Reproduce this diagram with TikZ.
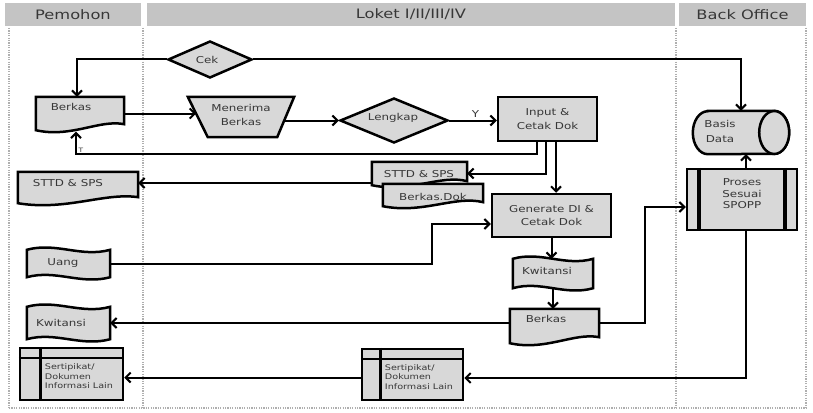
\documentclass[tikz,border=0pt]{standalone}
\usepackage{fontspec}
\setmainfont{DejaVu Sans}[FakeStretch=1.25]
\usetikzlibrary{shapes.geometric,arrows.meta,calc}
\definecolor{shpfill}{RGB}{216,216,216}
\definecolor{hdrfill}{RGB}{196,196,196}
\definecolor{txtc}{RGB}{55,55,55}
\definecolor{lanec}{RGB}{175,175,175}
\tikzset{
 shp/.style={draw=black, fill=shpfill, line width=2.5pt, line join=miter},
 box/.style={shp, rectangle, inner sep=0pt},
 ghost/.style={rectangle, inner sep=0pt, draw=none},
 lbl/.style={text=txtc, font=\fontsize{9.5}{13.5}\selectfont, inner sep=0pt, align=center},
 slbl/.style={text=txtc, font=\fontsize{7.7}{9.5}\selectfont, inner sep=0pt, align=left},
 hdr/.style={text=txtc, font=\fontsize{13}{15}\selectfont, inner sep=0pt, fill=hdrfill},
 conn/.style={draw=black, line width=2pt, -{Straight Barb[length=5pt,width=10pt]}},
 lane/.style={draw=lanec, line width=1.6pt, dash pattern=on 1.2pt off 1.2pt},
}
\newcommand\docshape[2]{%
 \draw[shp] (#1.south west) -- (#1.north west) -- (#1.north east) -- ($(#1.south east)+(0pt,#2)$)
   .. controls ($(#1.south west)!0.72!(#1.south east)+(0pt,11pt)$) and ($(#1.south west)!0.4!(#1.south east)+(0pt,-8pt)$) .. (#1.south west) -- cycle;}
\newcommand\tapeshape[2]{%
 \draw[shp] (#1.north west) .. controls ($(#1.north west)!0.35!(#1.north east)+(0pt,#2)$) and ($(#1.north west)!0.65!(#1.north east)+(0pt,-#2)$) .. (#1.north east)
   -- (#1.south east) .. controls ($(#1.south west)!0.65!(#1.south east)+(0pt,-#2)$) and ($(#1.south west)!0.35!(#1.south east)+(0pt,#2)$) .. (#1.south west) -- cycle;}
\begin{document}
\begin{tikzpicture}[x=1pt,y=-1pt]
\useasboundingbox (0,0) rectangle (813,412);
\fill[white] (0,0) rectangle (813,412);
% headers
\node[hdr, minimum width=136pt, minimum height=23pt] (hP) at (73,14.5) {Pemohon};
\node[hdr, minimum width=528pt, minimum height=23pt] (hL) at (411,14.5) {Loket I/II/III/IV};
\node[hdr, minimum width=127pt, minimum height=23pt] (hB) at (742.5,14.5) {Back Office};
% lanes
\draw[lane] (9,28) -- (9,408);
\draw[lane] (143,28) -- (143,408);
\draw[lane] (676,28) -- (676,408);
\draw[lane] (806,28) -- (806,408);
\draw[lane] (9,408) -- (806,408);
% shapes
\node[shp, diamond, minimum width=84pt, minimum height=37pt, inner sep=0pt] (cek) at (210,59.5) {};
\node[lbl] (cekt) at (207,59.5) {Cek};

\node[ghost, minimum width=88pt, minimum height=33pt] (berkasA) at (80,113.5) {};
\docshape{berkasA}{6pt}
\node[lbl] (berkasAt) at (71,107) {Berkas};

\node[ghost, minimum width=106pt, minimum height=40pt] (menerima) at (241,117) {};
\draw[shp] (menerima.north west) -- (menerima.north east) -- ([xshift=-17pt]menerima.south east) -- ([xshift=20pt]menerima.south west) -- cycle;
\node[lbl] (menerimat) at (241,115) {Menerima\\Berkas};

\node[shp, diamond, minimum width=108pt, minimum height=45pt, inner sep=0pt] (lengkap) at (394,120.5) {};
\node[lbl] (lengkapt) at (393,118) {Lengkap};

\node[box, lbl, minimum width=99pt, minimum height=44pt] (input) at (547.5,119) {Input \&\\Cetak Dok};

\node[ghost, minimum width=95pt, minimum height=23pt] (sttdB) at (419.5,173.5) {};
\docshape{sttdB}{4pt}
\node[lbl] (sttdBt) at (419,174) {STTD \& SPS};
\node[ghost, minimum width=100pt, minimum height=22pt] (dokB) at (433,195) {};
\docshape{dokB}{4pt}
\node[lbl] (dokBt) at (433,197) {Berkas.Dok};

\node[ghost, minimum width=120pt, minimum height=31pt] (sttdA) at (78,187.5) {};
\docshape{sttdA}{6pt}
\node[lbl] (sttdAt) at (68,183) {STTD \& SPS};

\node[box, lbl, minimum width=119pt, minimum height=43pt] (generate) at (551.5,215.5) {Generate DI \&\\Cetak Dok};

\node[ghost, minimum width=83pt, minimum height=27pt] (uang) at (68.5,263.5) {};
\tapeshape{uang}{8pt}
\node[lbl] (uangt) at (63,263) {Uang};

\node[ghost, minimum width=80pt, minimum height=29pt] (kwitB) at (553,273.5) {};
\tapeshape{kwitB}{8pt}
\node[lbl] (kwitBt) at (547,271) {Kwitansi};

\node[ghost, minimum width=89pt, minimum height=34pt] (berkasB) at (554.5,326) {};
\docshape{berkasB}{6pt}
\node[lbl] (berkasBt) at (546,319) {Berkas};

\node[ghost, minimum width=83pt, minimum height=32pt] (kwitA) at (68.5,323) {};
\tapeshape{kwitA}{8pt}
\node[lbl] (kwitAt) at (61,323) {Kwitansi};

\node[box, minimum width=110pt, minimum height=61pt] (proses) at (742,199.5) {};
\draw[line width=3.6pt] ([xshift=13pt]proses.north west) -- ([xshift=13pt]proses.south west);
\draw[line width=3.6pt] ([xshift=-13pt]proses.north east) -- ([xshift=-13pt]proses.south east);
\node[lbl, font=\fontsize{9.5}{11.5}\selectfont] (prosest) at (742,194) {Proses\\Sesuai\\SPOPP};

\node[ghost, minimum width=96pt, minimum height=43pt] (basis) at (741,132.5) {};
\draw[shp] ($(basis.north west)+(15pt,0pt)$) -- ($(basis.north east)+(-15pt,0pt)$) arc[start angle=90, end angle=-90, x radius=15pt, y radius=21.5pt]
  -- ($(basis.south west)+(15pt,0pt)$) arc[start angle=270, end angle=90, x radius=15pt, y radius=21.5pt] -- cycle;
\draw[shp] ($(basis.east)+(-15pt,0pt)$) ellipse[x radius=15pt, y radius=21.5pt];
\node[lbl, font=\fontsize{9.5}{15}\selectfont] (basist) at (720,131) {Basis\\Data};

\node[box, minimum width=103pt, minimum height=52pt] (sertA) at (71.5,374) {};
\draw[line width=2.2pt] ($(sertA.north west)+(0pt,-11pt)$) -- ($(sertA.north east)+(0pt,-11pt)$);
\draw[line width=3pt] ($(sertA.north west)+(22pt,0pt)$) -- ($(sertA.south west)+(22pt,0pt)$);
\node[slbl, anchor=west] (sertAt) at ($(sertA.west)+(26pt,-2.5pt)$) {Sertipikat/\\Dokumen\\Informasi Lain};

\node[box, minimum width=101pt, minimum height=51pt] (sertB) at (412.5,374.5) {};
\draw[line width=2.2pt] ($(sertB.north west)+(0pt,-11pt)$) -- ($(sertB.north east)+(0pt,-11pt)$);
\draw[line width=3pt] ($(sertB.north west)+(20pt,0pt)$) -- ($(sertB.south west)+(20pt,0pt)$);
\node[slbl, anchor=west] (sertBt) at ($(sertB.west)+(24pt,-2.5pt)$) {Sertipikat/\\Dokumen\\Informasi Lain};

% connectors
\draw[conn] (cek.west) -| ([xshift=-3pt]berkasA.north);
\draw[conn] (cek.east) -| (basis.north);
\draw[conn] (berkasA.east) -- ($(menerima.west |- berkasA.east)+(8.3pt,0pt)$);
\draw[conn] ($(menerima.east |- lengkap.west)+(-10pt,0pt)$) -- (lengkap.west);
\draw[conn] (lengkap.east) -- node[lbl, above, pos=0.55, yshift=2pt] (ylbl) {Y} (input.west |- lengkap.east);
\coordinate (tturn) at (76,154);
\draw[conn] ([xshift=-10.5pt]input.south) |- (tturn) -- node[lbl, font=\fontsize{6}{7}\selectfont, right, pos=0.18, xshift=1.5pt] (tlbl) {T} ($(tturn |- berkasA.south)+(0pt,-1.5pt)$);
\draw[conn] ([xshift=-1.5pt]input.south) |- (sttdB.east);
\draw[conn] ($(input.south)+(8.5pt,0pt)$) -- ($(input.south |- generate.north)+(8.5pt,0pt)$);
\draw[conn] ($(sttdB.west |- sttdA.east)+(0pt,4.5pt)$) -- ($(sttdA.east)+(0pt,4.5pt)$);
\coordinate (uturn) at (432,224);
\draw[conn] (uang.east) -| (uturn) -- (generate.west |- uturn);
\draw[conn] (generate.south) -- (generate.south |- kwitB.north);
\draw[conn] (kwitB.south) -- (kwitB.south |- berkasB.north);
\draw[conn] (berkasB.west |- kwitA.east) -- (kwitA.east);
\coordinate (pturn) at (645,207);
\draw[conn] (berkasB.east |- kwitA.east) -| (pturn) -- (proses.west |- pturn);
\draw[conn] ($(proses.north)+(4pt,0pt)$) -- ($(proses.north |- basis.south)+(4pt,0pt)$);
\draw[conn] ($(proses.south)+(4pt,0pt)$) |- ($(sertB.east)+(0pt,-3.5pt)$);
\draw[conn] ($(sertB.west)+(0pt,-3pt)$) -- ($(sertA.east |- sertB.west)+(0pt,-3pt)$);
\end{tikzpicture}
\end{document}
